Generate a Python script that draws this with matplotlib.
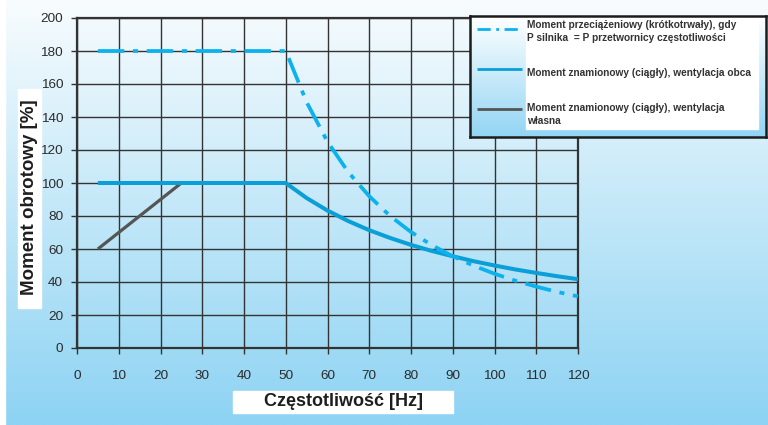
import numpy as np
import matplotlib
matplotlib.use("Agg")
import matplotlib.pyplot as plt
from matplotlib.patches import Rectangle
from matplotlib.lines import Line2D

plt.rcParams["font.family"] = ["Liberation Sans", "DejaVu Sans"]
plt.rcParams["lines.scale_dashes"] = False

# Torque characteristics of the motor vs. supply frequency
freq_overload = [5, 50, 55, 60, 65, 70, 75, 80, 85, 90, 95, 100, 105, 110, 115, 120]
torque_overload = [180, 180, 149, 125, 106.5, 92, 80, 70.3, 62.3, 55.6, 49.9, 45, 40.8, 37.2, 34, 31.3]

freq_forced = [5, 50, 55, 60, 65, 70, 75, 80, 85, 90, 95, 100, 105, 110, 115, 120]
torque_forced = [100, 100, 90.9, 83.3, 76.9, 71.4, 66.7, 62.5, 58.8, 55.6, 52.6, 50, 47.6, 45.5, 43.5, 41.7]

freq_self = [5, 25]
torque_self = [60, 100]

x_ticks = list(range(0, 121, 10))
y_ticks = list(range(0, 201, 20))

labels = [
    "Moment przeciążeniowy (krótkotrwały), gdy\nP silnika  = P przetwornicy częstotliwości",
    "Moment znamionowy (ciągły), wentylacja obca",
    "Moment znamionowy (ciągły), wentylacja\nwłasna",
]
x_title = "Częstotliwość [Hz]"
y_title = "Moment obrotowy [%]"

C_OVER = "#0bb2ee"
C_FORCED = "#0a9fd6"
C_SELF = "#555555"
C_GRID = "#333333"
C_TEXT = "#2b2b2b"

W, H = 768, 425
fig = plt.figure(figsize=(W / 100, H / 100), dpi=100)


def fx(px):
    return px / W


def fy(py):
    return 1 - py / H


def vgrad(top, bottom, n=256):
    t = np.linspace(0, 1, n)[:, None]
    a = np.array(matplotlib.colors.to_rgb(top))
    b = np.array(matplotlib.colors.to_rgb(bottom))
    return (a + (b - a) * t)[:, None, :].repeat(2, axis=1)


# background gradient
bg = fig.add_axes([0, 0, 1, 1], zorder=-10)
bg.imshow(vgrad("#f8fcfe", "#8dd3f3"), aspect="auto", extent=[0, 1, 0, 1])
bg.add_patch(Rectangle((0, 0), 5 / W, 1, color="white", transform=bg.transAxes))
bg.set_axis_off()

# main axes
ax = fig.add_axes([fx(77), fy(348), fx(578) - fx(77), fy(18) - fy(348)])
ax.set_facecolor("none")
ax.set_xlim(0, 120)
ax.set_ylim(0, 200)
ax.set_xticks(x_ticks)
ax.set_yticks(y_ticks)
ax.grid(True, color=C_GRID, lw=1.0)
ax.set_axisbelow(True)
for s in ax.spines.values():
    s.set_color(C_GRID)
    s.set_linewidth(1.6)
ax.tick_params(axis="both", colors=C_GRID, labelcolor=C_TEXT, labelsize=9.7,
               length=4, width=1)
ax.tick_params(axis="x", pad=12)
ax.tick_params(axis="y", pad=6)

ax.plot(freq_self, torque_self, color=C_SELF, lw=2.3, solid_capstyle="butt",
        zorder=3)
ax.plot(freq_forced, torque_forced, color=C_FORCED, lw=2.9,
        solid_capstyle="butt", zorder=4)
ax.plot(freq_overload, torque_overload, color=C_OVER, lw=2.7,
        linestyle=(0, (19.0, 6.3, 3.6, 6.3)), dash_capstyle="butt",
        zorder=5, clip_on=False)

# axis titles on white plates
fig.patches.append(Rectangle((fx(233), fy(413)), fx(453) - fx(233),
                             fy(391) - fy(413), transform=fig.transFigure,
                             color="white", zorder=1))
fig.text(fx(343), fy(402), x_title, ha="center", va="center",
         fontsize=13, fontweight="bold", color="#1e1e1e", zorder=2)
fig.patches.append(Rectangle((fx(18), fy(308)), fx(41) - fx(18),
                             fy(89) - fy(308), transform=fig.transFigure,
                             color="white", zorder=1))
fig.text(fx(30), fy(197), y_title, ha="center", va="center", rotation=90,
         fontsize=13.5, fontweight="bold", color="#1e1e1e", zorder=2)

# legend panel
lg = fig.add_axes([fx(470), fy(137), fx(766) - fx(470), fy(16) - fy(137)],
                  zorder=10)
lg.imshow(vgrad("#ffffff", "#92d5f4"), aspect="auto", extent=[0, 1, 0, 1],
          transform=lg.transAxes)
lg.set_xlim(0, 1)
lg.set_ylim(0, 1)
lg.set_xticks([])
lg.set_yticks([])
for s in lg.spines.values():
    s.set_color("#1c1c1c")
    s.set_linewidth(1.8)

lw_px = 766 - 470
lh_px = 137 - 16


def lx(px):
    return (px - 470) / lw_px


def ly(py):
    return 1 - (py - 16) / lh_px


lg.add_patch(Rectangle((lx(526), ly(129)), lx(758) - lx(526),
                       ly(17) - ly(129), color="white", zorder=1))

handles = [
    dict(y=29, color=C_OVER, ls=(0, (9.5, 4.0, 2.0, 4.0))),
    dict(y=69, color=C_FORCED, ls="-"),
    dict(y=109, color=C_SELF, ls="-"),
]
for h in handles:
    lg.add_line(Line2D([lx(477), lx(522)], [ly(h["y"]), ly(h["y"])],
                       color=h["color"], lw=2.0, linestyle=h["ls"],
                       solid_capstyle="butt", dash_capstyle="butt", zorder=2))

text_y = [31.5, 73, 114.5]
for t, yy in zip(labels, text_y):
    lg.text(lx(527), ly(yy), t, ha="left", va="center", fontsize=7.3,
            fontweight="bold", color="#333333", linespacing=1.3, zorder=3)

fig.savefig("out.png", dpi=100)
